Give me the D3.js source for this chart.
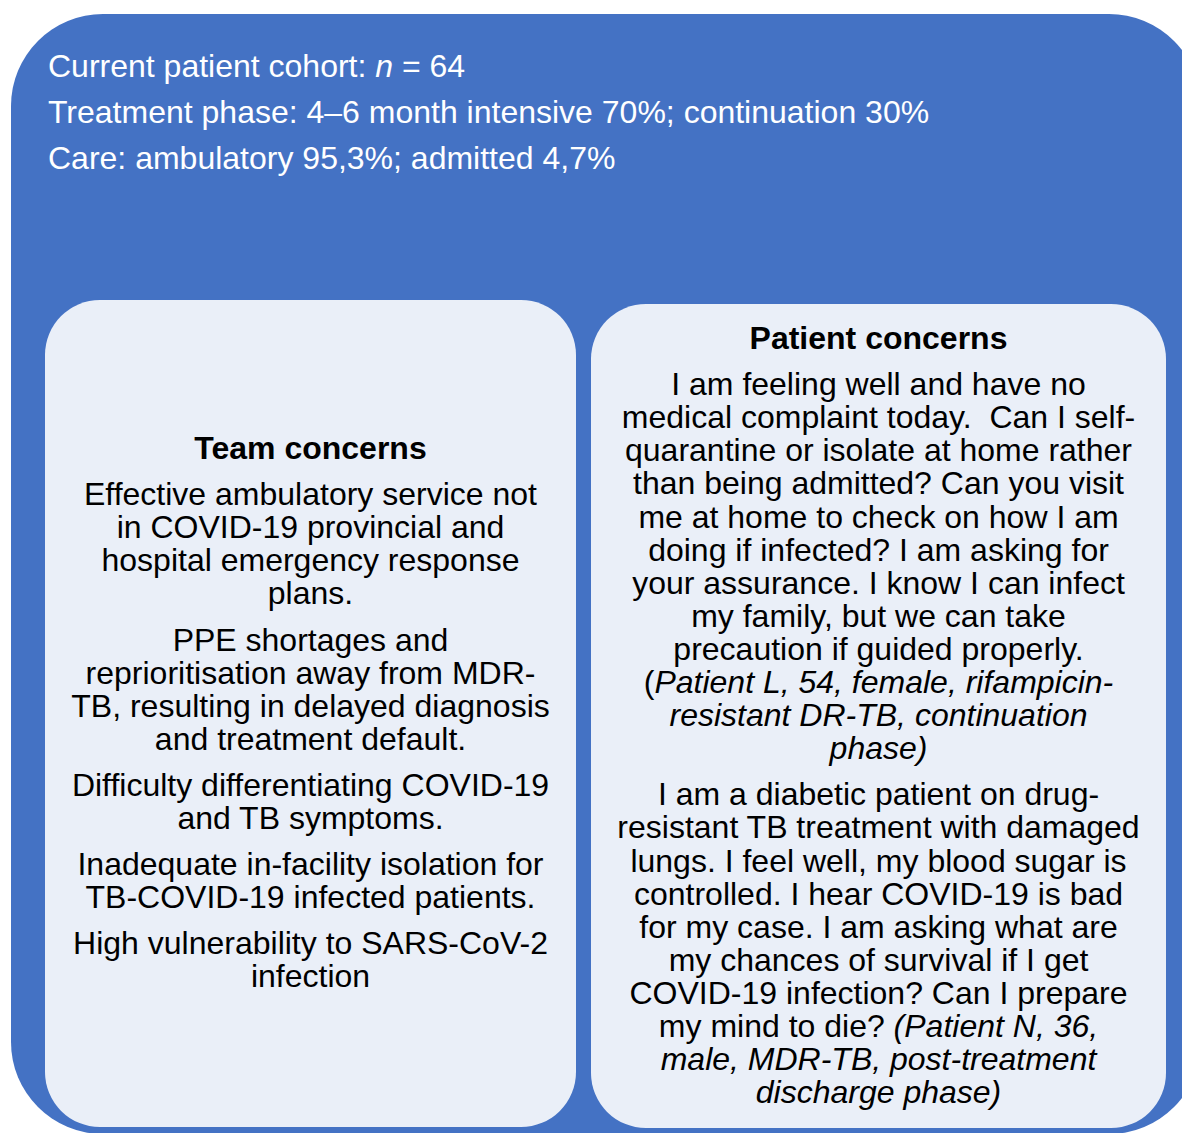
<!DOCTYPE html>
<meta charset="utf-8">
<title>TB-COVID concerns</title>
<style>
body { margin: 0; background: #fff; }
svg text { font-family: "Liberation Sans", Arial, sans-serif; }
</style>
<svg width="1182" height="1133"></svg>
<script src="https://d3js.org/d3.v7.min.js"></script>
<script>

// header lines: segments of [text, italic]
var headerLines = [
  [["Current patient cohort: ", false], ["n", true], [" = 64", false]],
  [["Treatment phase: 4\u20136 month intensive 70%; continuation 30%", false]],
  [["Care: ambulatory 95,3%; admitted 4,7%", false]]
];

var teamTitle = "Team concerns";
var teamParas = [
  [[["Effective ambulatory service not", false]],
   [["in COVID-19 provincial and", false]],
   [["hospital emergency response", false]],
   [["plans.", false]]],
  [[["PPE shortages and", false]],
   [["reprioritisation away from MDR-", false]],
   [["TB, resulting in delayed diagnosis", false]],
   [["and treatment default.", false]]],
  [[["Difficulty differentiating COVID-19", false]],
   [["and TB symptoms.", false]]],
  [[["Inadequate in-facility isolation for", false]],
   [["TB-COVID-19 infected patients.", false]]],
  [[["High vulnerability to SARS-CoV-2", false]],
   [["infection", false]]]
];

var patientTitle = "Patient concerns";
var patientParas = [
  [[["I am feeling well and have no", false]],
   [["medical complaint today.  Can I self-", false]],
   [["quarantine or isolate at home rather", false]],
   [["than being admitted? Can you visit", false]],
   [["me at home to check on how I am", false]],
   [["doing if infected? I am asking for", false]],
   [["your assurance. I know I can infect", false]],
   [["my family, but we can take", false]],
   [["precaution if guided properly.", false]],
   [["(", false], ["Patient L, 54, female, rifampicin-", true]],
   [["resistant DR-TB, continuation", true]],
   [["phase)", true]]],
  [[["I am a diabetic patient on drug-", false]],
   [["resistant TB treatment with damaged", false]],
   [["lungs. I feel well, my blood sugar is", false]],
   [["controlled. I hear COVID-19 is bad", false]],
   [["for my case. I am asking what are", false]],
   [["my chances of survival if I get", false]],
   [["COVID-19 infection? Can I prepare", false]],
   [["my mind to die? ", false], ["(Patient N, 36,", true]],
   [["male, MDR-TB, post-treatment", true]],
   [["discharge phase)", true]]]
];

var svg = d3.select("svg");
var blue = "#4472C4", pale = "#EAEFF8";

// outer box
svg.append("rect")
    .attr("x", 11).attr("y", 14)
    .attr("width", 1190).attr("height", 1120)
    .attr("rx", 92).attr("ry", 92)
    .attr("fill", blue);

// header text
headerLines.forEach(function(line, i) {
  var t = svg.append("text")
      .attr("x", 48).attr("y", 77 + i * 46)
      .attr("font-size", 32).attr("fill", "#fff");
  line.forEach(function(s) {
    t.append("tspan").text(s[0]).attr("font-style", s[1] ? "italic" : "normal");
  });
});

// inner panels
var panels = [
  {x: 45, y: 300, w: 531, h: 827, title: teamTitle, paras: teamParas, y0: 459},
  {x: 591, y: 304, w: 575, h: 824, title: patientTitle, paras: patientParas, y0: 349}
];

var lineStep = 33.1, paraGap = 13, fs = 32;

panels.forEach(function(p) {
  svg.append("rect")
      .attr("x", p.x).attr("y", p.y)
      .attr("width", p.w).attr("height", p.h)
      .attr("rx", 55).attr("ry", 55)
      .attr("fill", pale);

  var cx = p.x + p.w / 2;
  svg.append("text")
      .attr("x", cx).attr("y", p.y0)
      .attr("text-anchor", "middle")
      .attr("font-size", fs).attr("font-weight", "bold")
      .attr("fill", "#000")
      .text(p.title);

  var y = p.y0 + lineStep + paraGap;
  p.paras.forEach(function(para) {
    para.forEach(function(line) {
      var t = svg.append("text")
          .attr("x", cx).attr("y", y)
          .attr("text-anchor", "middle")
          .attr("font-size", fs).attr("fill", "#000");
      line.forEach(function(s) {
        t.append("tspan").text(s[0]).attr("font-style", s[1] ? "italic" : "normal")
          .style("white-space", "pre");
      });
      y += lineStep;
    });
    y += paraGap;
  });
});

</script>
